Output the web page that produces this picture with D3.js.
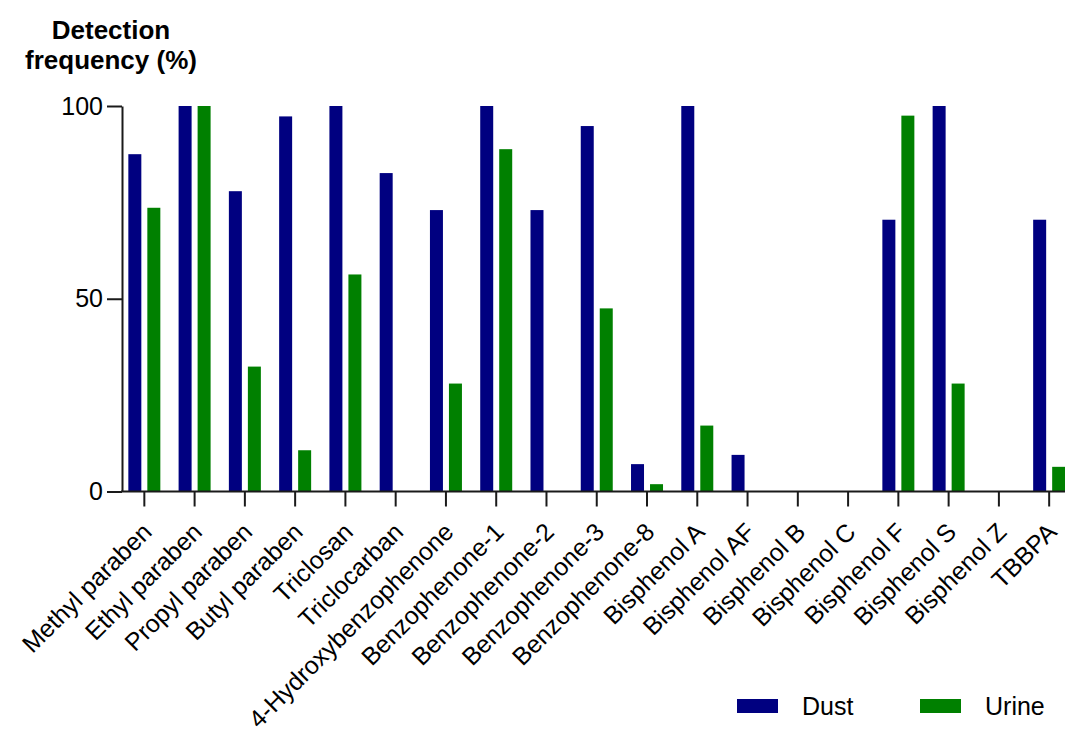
<!DOCTYPE html>
<html>
<head>
<meta charset="utf-8">
<script src="https://cdn.jsdelivr.net/npm/d3@7"></script>
<style>
  html, body { margin: 0; padding: 0; background: #fff; }
  svg { display: block; font-family: "Liberation Sans", Arial, sans-serif; }
</style>
</head>
<body>
<svg id="chart" width="1065" height="738"></svg>
<script>
// Detection frequency (%) of each compound in dust and urine samples
const categories = [
  "Methyl paraben", "Ethyl paraben", "Propyl paraben", "Butyl paraben",
  "Triclosan", "Triclocarban", "4-Hydroxybenzophenone", "Benzophenone-1",
  "Benzophenone-2", "Benzophenone-3", "Benzophenone-8", "Bisphenol A",
  "Bisphenol AF", "Bisphenol B", "Bisphenol C", "Bisphenol F",
  "Bisphenol S", "Bisphenol Z", "TBBPA"
];
const dust  = [87.5, 100, 77.9, 97.3, 100, 82.6, 73.0, 100, 73.0, 94.8, 7.1, 100, 9.5, 0, 0, 70.5, 100, 0, 70.5];
const urine = [73.6, 100, 32.4, 10.7, 56.3, 0, 28.0, 88.8, 0, 47.5, 1.9, 17.1, 0, 0, 0, 97.5, 28.0, 0, 6.4];
const seriesNames = ["Dust", "Urine"];
const seriesColors = ["#000080", "#008000"];
const yTicks = [0, 50, 100];

const svg = d3.select("#chart");
const W = 1065;

const x = d3.scaleBand().domain(categories).range([119.2, 1074.3]).padding(0);
const xSub = d3.scaleBand().domain(seriesNames).range([-16, 16]).paddingInner(0.316);
const y = d3.scaleLinear().domain([0, 100]).range([491.5, 106]);
const color = d3.scaleOrdinal().domain(seriesNames).range(seriesColors);

const axisX0 = 122;

// Title of the y axis
const title = svg.append("text")
  .attr("text-anchor", "middle")
  .attr("font-weight", "bold")
  .attr("font-size", 26)
  .attr("fill", "#000");
title.append("tspan").attr("x", 111).attr("y", 39).text("Detection");
title.append("tspan").attr("x", 111).attr("y", 69).text("frequency (%)");

// Bars
const rows = categories.map((c, i) => ({ cat: c, values: [dust[i], urine[i]] }));
const groups = svg.append("g").selectAll("g")
  .data(rows).join("g")
  .attr("transform", d => `translate(${x(d.cat) + x.bandwidth() / 2},0)`);
groups.selectAll("rect")
  .data(d => seriesNames.map((s, k) => ({ key: s, value: d.values[k] })))
  .join("rect")
  .attr("x", d => xSub(d.key))
  .attr("width", xSub.bandwidth())
  .attr("y", d => y(d.value))
  .attr("height", d => y(0) - y(d.value))
  .attr("fill", d => color(d.key));

// Y axis
const gy = svg.append("g")
  .attr("transform", `translate(${axisX0},0)`)
  .call(d3.axisLeft(y).tickValues(yTicks).tickSize(15).tickSizeOuter(0).tickPadding(4));
gy.selectAll("text").attr("font-size", 25).attr("fill", "#000").attr("font-family", null);
gy.selectAll("line, path").attr("stroke", "#1a1a1a").attr("stroke-width", 2);

// X axis
const gx = svg.append("g")
  .attr("transform", `translate(0,${y(0)})`)
  .call(d3.axisBottom(x).tickSize(15).tickSizeOuter(0).tickPadding(0));
gx.select(".domain").attr("d", `M${axisX0 - 1},0H${W}`);
gx.selectAll("line, path").attr("stroke", "#1a1a1a").attr("stroke-width", 2);
gx.selectAll("text")
  .attr("font-size", 24.8)
  .attr("fill", "#000")
  .attr("font-family", null)
  .attr("text-anchor", "end")
  .attr("y", 0)
  .attr("dy", 0)
  .attr("transform", "translate(9,42) rotate(-45)");

// Legend
const legend = svg.append("g");
const legendX = [737, 920];
seriesNames.forEach((s, k) => {
  legend.append("rect")
    .attr("x", legendX[k]).attr("y", 699)
    .attr("width", 41).attr("height", 14)
    .attr("fill", color(s));
  legend.append("text")
    .attr("x", legendX[k] + 65).attr("y", 715)
    .attr("font-size", 25).attr("fill", "#000")
    .text(s);
});
</script>
</body>
</html>
